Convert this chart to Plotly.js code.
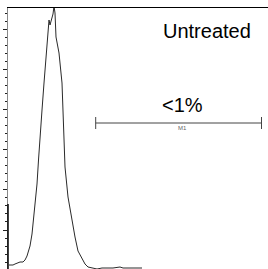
<!DOCTYPE html>
<html>
<head>
<meta charset="utf-8">
<script src="https://cdn.plot.ly/plotly-3.0.1.min.js"></script>
<style>html,body{margin:0;padding:0;background:#fff;}#chart{width:268px;height:269px;}</style>
</head>
<body>
<div id="chart"></div>
<script>
// Histogram: channel vs counts
const channel = [1,2,5,7,10,12,15,17,19,22,24,25,27,29,30.5,32,34,36,38,40,41,42,44,45,46,47,48,49,51,54,55,56,57,60,64,67,70,74,77,80,89,94,99,105,112,115,122,129,134];
const counts  = [4,4,4,5,6,7,7,9,13,23,35,45,64,85,109,135,159,186,213,240,249,244,251,255,263,256,232,226,216,186,159,135,102,72,48,32,18,10,5,2,0,1,1,1,2,1,1,1,1];
// Marker M1 gate
const gateRange = [87.7, 253.5];
const gateLevel = 146;
const gateLabel = "M1";
const gatePercent = "<1%";
const sampleLabel = "Untreated";

const traces = [
  {x: channel, y: counts, type: 'scatter', mode: 'lines',
   line: {color: '#2a2a2a', width: 1}, hoverinfo: 'skip', cliponaxis: true},
  {x: gateRange, y: [gateLevel, gateLevel], type: 'scatter', mode: 'lines',
   line: {color: '#444', width: 1},
   error_y: {type: 'constant', value: 6, width: 0, thickness: 1, color: '#444'},
   hoverinfo: 'skip'}
];

const layout = {
  width: 268, height: 269,
  margin: {l: 8, r: 0, t: 8, b: 0},
  paper_bgcolor: '#fff', plot_bgcolor: '#fff',
  showlegend: false,
  font: {family: '"Liberation Sans", Arial, sans-serif', color: '#000'},
  xaxis: {range: [0, 260], side: 'top', showline: true, linecolor: '#000', linewidth: 1.5,
          showgrid: false, zeroline: false, showticklabels: false, ticks: ''},
  yaxis: {range: [0, 261], showline: true, linecolor: '#888', linewidth: 1,
          showgrid: false, zeroline: false, showticklabels: false,
          ticks: 'outside', ticklen: 4, tickwidth: 1, tickcolor: '#222',
          tick0: 39, dtick: 40.1,
          minor: {ticks: 'outside', ticklen: 2, tickwidth: 1, tickcolor: '#222', dtick: 8.02, tick0: 39}},
  shapes: [
    {type: 'line', xref: 'paper', yref: 'y', x0: 0, x1: 0, y0: 0, y1: 65,
     line: {color: '#000', width: 1.5}}
  ],
  annotations: [
    {text: sampleLabel, x: 199, y: 238, xref: 'x', yref: 'y', showarrow: false,
     xanchor: 'center', yanchor: 'middle', font: {size: 20, color: '#000'}},
    {text: gatePercent, x: 174, y: 164, xref: 'x', yref: 'y', showarrow: false,
     xanchor: 'center', yanchor: 'middle', font: {size: 20, color: '#000'}},
    {text: gateLabel, x: 174, y: 141, xref: 'x', yref: 'y', showarrow: false,
     xanchor: 'center', yanchor: 'middle', font: {size: 6, color: '#666'}}
  ]
};

Plotly.newPlot('chart', traces, layout, {displayModeBar: false, staticPlot: true});
</script>
</body>
</html>
